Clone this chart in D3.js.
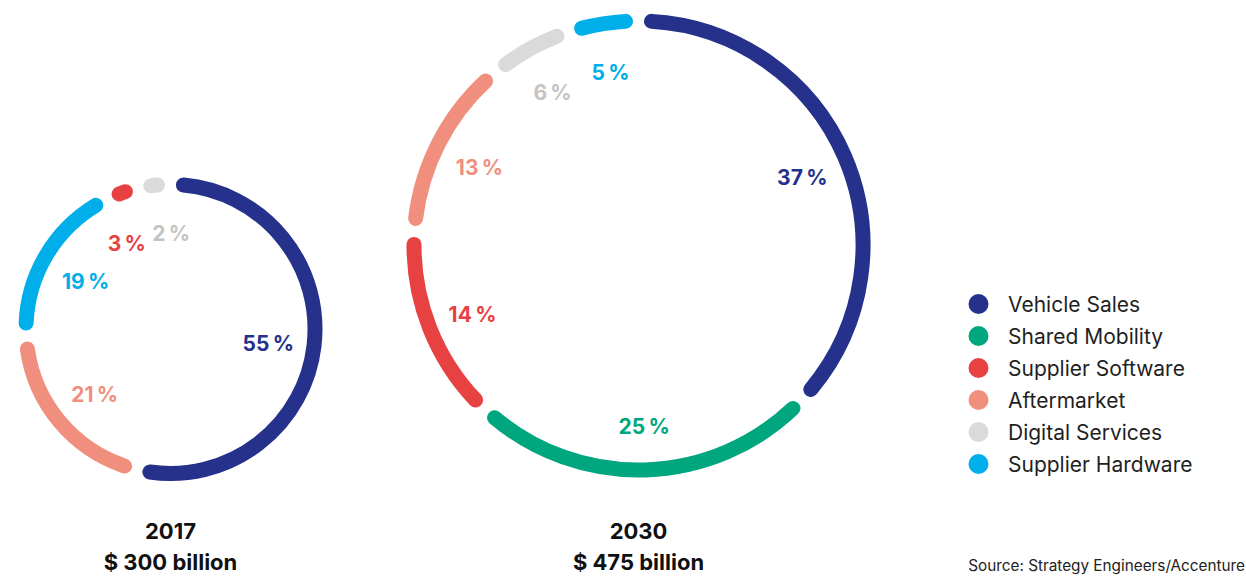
<!DOCTYPE html>
<html>
<head>
<meta charset="utf-8">
<script src="https://cdn.jsdelivr.net/npm/d3@7"></script>
<style>
  html, body { margin: 0; padding: 0; background: #ffffff; }
  svg { display: block; font-family: Inter, "Noto Sans", sans-serif; }
</style>
</head>
<body>
<svg id="chart" width="1246" height="577"></svg>
<script>
// Market segments, in legend order
const categories = ["Vehicle Sales", "Shared Mobility", "Supplier Software", "Aftermarket", "Digital Services", "Supplier Hardware"];
const colors = ["#25318a", "#00a67e", "#e84142", "#f18f7e", "#d9dad9", "#00aeea"];
const labelColors = ["#25318a", "#00a67e", "#e84142", "#f18f7e", "#c4c4c4", "#00aeea"];

// Ring order (clockwise from 12 o'clock) and shares in percent
const order2017 = ["Vehicle Sales", "Aftermarket", "Supplier Hardware", "Supplier Software", "Digital Services"];
const shares2017 = [55, 21, 19, 3, 2];
const order2030 = ["Vehicle Sales", "Shared Mobility", "Supplier Software", "Aftermarket", "Digital Services", "Supplier Hardware"];
const shares2030 = [37, 25, 14, 13, 6, 5];

const years = ["2017", "2030"];
const totals = ["$ 300 billion", "$ 475 billion"];
const sourceText = "Source: Strategy Engineers/Accenture";

// Layout
const rings = [
  { cx: 170.5, cy: 329, r: 144.5 },
  { cx: 638.5, cy: 245.5, r: 224.5 }
];
const strokeW = 15;
const gapPx = 13;                 // half gap between cap centres
const minSlice = 13 * Math.PI / 180;
const labelInset = 46;

const svg = d3.select("#chart");
const color = d3.scaleOrdinal().domain(categories).range(colors);
const labelColor = d3.scaleOrdinal().domain(categories).range(labelColors);

function drawRing(order, shares, ring, year, total) {
  const data = order.map((c, i) => ({ cat: c, value: shares[i] }));
  const sum = d3.sum(data, d => d.value);
  // small slices get a minimum angle, the rest share what is left
  const isSmall = d => d.value / sum * 2 * Math.PI < minSlice;
  const nSmall = data.filter(isSmall).length;
  const bigSum = d3.sum(data.filter(d => !isSmall(d)), d => d.value);
  const rest = 2 * Math.PI - nSmall * minSlice;
  data.forEach(d => { d.allot = isSmall(d) ? minSlice : d.value / bigSum * rest; });

  const arcs = d3.pie().sort(null).value(d => d.allot)(data);
  const g = svg.append("g").attr("transform", `translate(${ring.cx},${ring.cy})`);
  const h = gapPx / ring.r;

  g.selectAll("path.seg").data(arcs).join("path")
    .attr("class", "seg")
    .attr("fill", "none")
    .attr("stroke", d => color(d.data.cat))
    .attr("stroke-width", strokeW)
    .attr("stroke-linecap", "round")
    .attr("d", d => {
      let a0 = d.startAngle + h, a1 = d.endAngle - h;
      if (a1 < a0) { const m = (a0 + a1) / 2; a0 = m - 0.002; a1 = m + 0.002; }
      const p = d3.path();
      p.arc(0, 0, ring.r, a0 - Math.PI / 2, a1 - Math.PI / 2);
      return p.toString();
    });

  // value labels inside the ring
  const lr = ring.r - labelInset;
  const labels = arcs.map(d => ({ cat: d.data.cat, value: d.data.value, ang: (d.startAngle + d.endAngle) / 2 }));
  const texts = g.selectAll("text.val").data(labels).join("text")
    .attr("class", "val")
    .attr("text-anchor", "middle")
    .attr("dominant-baseline", "central")
    .attr("font-size", 21)
    .attr("font-weight", 700)
    .attr("fill", d => labelColor(d.cat))
    .text(d => `${d.value}\u2009%`);
  const place = () => texts
    .attr("x", d => lr * Math.sin(d.ang))
    .attr("y", d => -lr * Math.cos(d.ang) + 3);
  place();
  // spread labels that collide along the circle
  const nodes = texts.nodes();
  for (let it = 0; it < 80; it++) {
    let moved = false;
    for (let i = 0; i < nodes.length; i++) {
      const j = (i + 1) % nodes.length;
      if (i === j) continue;
      const a = nodes[i].getBBox(), b = nodes[j].getBBox();
      const pad = 6;
      if (a.x < b.x + b.width + pad && b.x < a.x + a.width + pad &&
          a.y < b.y + b.height && b.y < a.y + a.height) {
        labels[i].ang -= 0.01;
        labels[j].ang += 0.01;
        moved = true;
      }
    }
    place();
    if (!moved) break;
  }

  // caption
  const cap = svg.append("g").attr("text-anchor", "middle")
    .attr("font-size", 22).attr("font-weight", 700).attr("fill", "#111");
  cap.append("text").attr("x", ring.cx).attr("y", 539).text(year);
  cap.append("text").attr("x", ring.cx).attr("y", 570).text(total);
}

drawRing(order2017, shares2017, rings[0], years[0], totals[0]);
drawRing(order2030, shares2030, rings[1], years[1], totals[1]);

// legend
const y = d3.scalePoint().domain(categories).range([304, 464]);
const leg = svg.append("g");
leg.selectAll("circle").data(categories).join("circle")
  .attr("cx", 978.5).attr("cy", d => y(d)).attr("r", 10)
  .attr("fill", d => color(d));
leg.selectAll("text").data(categories).join("text")
  .attr("x", 1008).attr("y", d => y(d) + 7.5)
  .attr("font-size", 21).attr("fill", "#1f1f1f")
  .text(d => d);

svg.append("text")
  .attr("x", 1245).attr("y", 571)
  .attr("text-anchor", "end")
  .attr("font-size", 15.3).attr("fill", "#222")
  .text(sourceText);
</script>
</body>
</html>
